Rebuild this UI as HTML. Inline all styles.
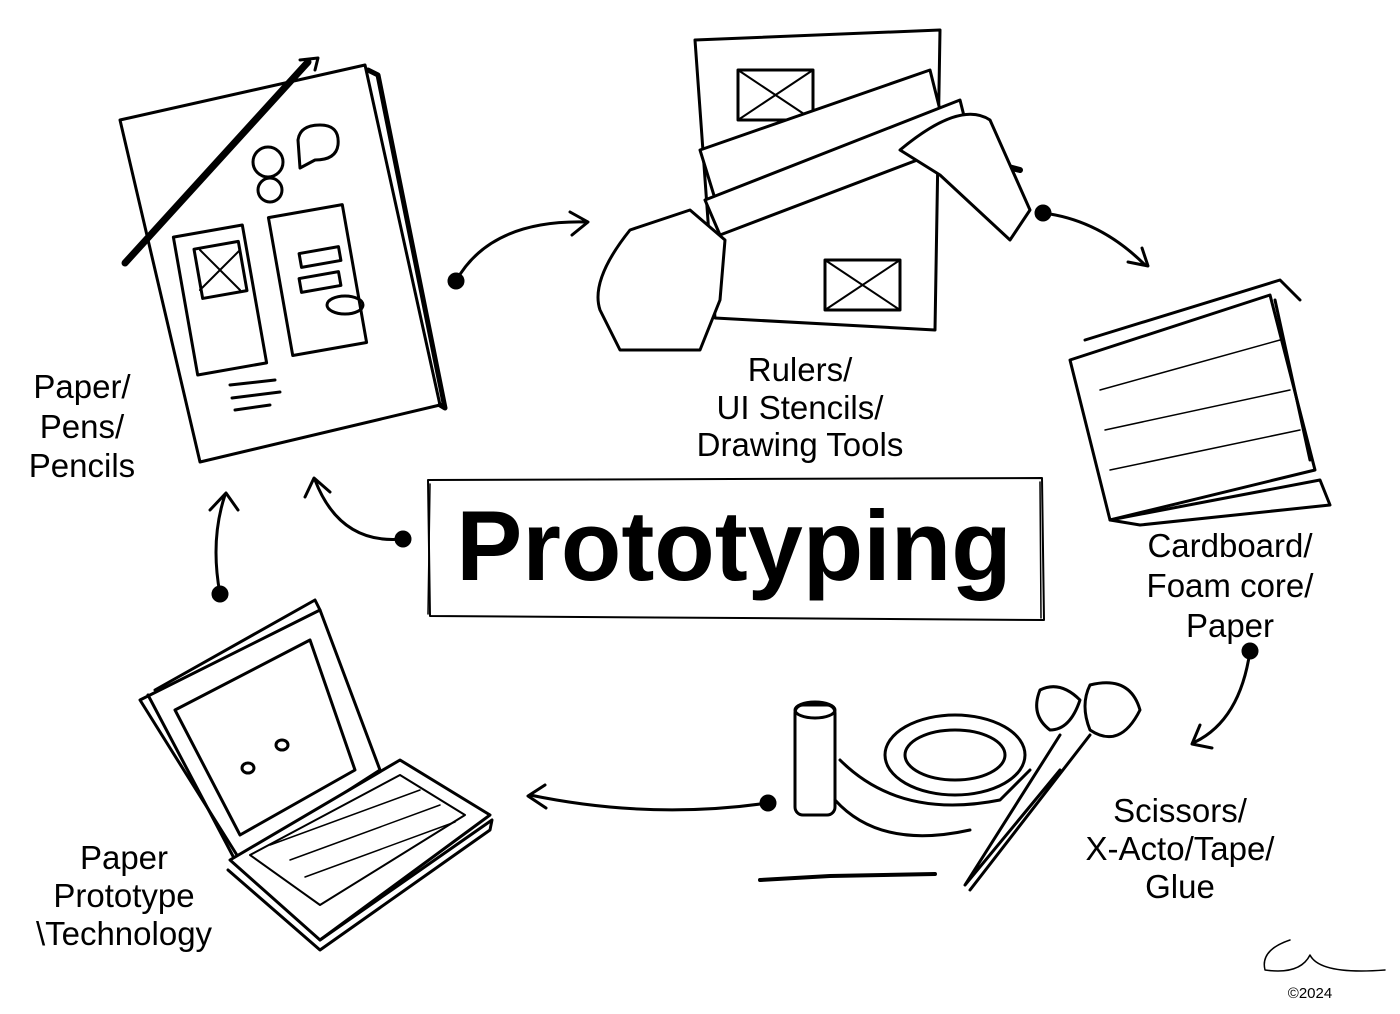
<!DOCTYPE html>
<html><head><meta charset="utf-8"><style>
html,body{margin:0;padding:0;background:#fff;}
svg{display:block}
text{font-family:"Liberation Sans",Arial,sans-serif;fill:#000}
</style></head><body>
<svg width="1400" height="1014" viewBox="0 0 1400 1014" xmlns="http://www.w3.org/2000/svg">
<g fill="none" stroke="#000" stroke-width="3" stroke-linecap="round" stroke-linejoin="round">
<path d="M120 120 L365 65 L440 405 L200 462 Z" fill="#fff"/>
<path d="M368 70 L378 75 L445 408 L440 405" stroke-width="5"/>
<path d="M308 62 L125 263" stroke-width="7"/>
<path d="M300 60 L318 58 L315 70" />
<rect x="185" y="230" width="70" height="140" transform="rotate(-10 220 300)"/>
<rect x="198" y="245" width="45" height="50" transform="rotate(-10 220 270)"/>
<path d="M200 250 L240 290 M240 250 L200 290" stroke-width="2"/>
<rect x="280" y="210" width="75" height="140" transform="rotate(-10 318 280)"/>
<rect x="300" y="250" width="40" height="14" transform="rotate(-10 320 257)"/>
<rect x="300" y="275" width="40" height="14" transform="rotate(-10 320 282)"/>
<ellipse cx="345" cy="305" rx="18" ry="9"/>
<circle cx="268" cy="162" r="15"/><circle cx="270" cy="190" r="12"/>
<path d="M298 140 Q300 125 320 125 Q340 125 338 145 Q336 160 315 160 L300 168 Z"/>
<path d="M230 385 L275 380 M232 398 L280 392 M235 410 L270 405"/>
<circle cx="456" cy="281" r="7" fill="#000"/>
<path d="M456 281 Q490 220 585 222 M570 212 L588 222 L572 235"/>
<path d="M695 40 L940 30 L935 330 L715 318 Z" fill="#fff"/>
<rect x="738" y="70" width="75" height="50"/>
<path d="M738 70 L813 120 M813 70 L738 120" stroke-width="2"/>
<rect x="825" y="260" width="75" height="50"/>
<path d="M825 260 L900 310 M900 260 L825 310" stroke-width="2"/>
<path d="M700 150 L930 70 L945 130 L720 215 Z" fill="#fff"/>
<path d="M705 200 L960 100 L970 140 L720 235 Z" fill="#fff"/>
<path d="M935 148 L1020 170" stroke-width="6"/>
<path d="M600 310 Q590 280 630 230 L690 210 L725 240 L720 300 L700 350 L620 350 Z" fill="#fff"/>
<path d="M900 150 Q960 100 990 120 L1030 210 L1010 240 L940 175 Z" fill="#fff"/>
<circle cx="1043" cy="213" r="7" fill="#000"/>
<path d="M1043 213 Q1100 220 1145 265 M1128 262 L1148 266 L1142 248"/>
<path d="M1070 360 L1270 295 L1315 470 L1110 520 Z" fill="#fff"/>
<path d="M1110 520 L1320 480 L1330 505 L1140 525 Z" fill="#fff"/>
<path d="M1085 340 L1280 280 L1300 300 M1275 300 L1310 460"/>
<path d="M1100 390 L1280 340 M1105 430 L1290 390 M1110 470 L1300 430" stroke-width="1.5"/>
<circle cx="1250" cy="651" r="7" fill="#000"/>
<path d="M1250 651 Q1240 720 1195 742 M1200 725 L1192 744 L1212 748"/>
<rect x="795" y="705" width="40" height="110" rx="8" fill="#fff"/>
<ellipse cx="815" cy="710" rx="20" ry="8"/>
<ellipse cx="955" cy="755" rx="70" ry="40" fill="#fff"/>
<ellipse cx="955" cy="755" rx="50" ry="25"/>
<path d="M840 760 Q900 820 1000 800 L1030 770"/>
<path d="M835 800 Q880 850 970 830"/>
<path d="M1040 690 Q1060 680 1080 700 Q1070 730 1050 730 Q1030 715 1040 690 Z" fill="#fff"/>
<path d="M1090 685 Q1130 675 1140 710 Q1120 750 1090 730 Q1080 705 1090 685 Z" fill="#fff"/>
<path d="M1060 735 L965 885 L1060 770 M1090 735 L970 890"/>
<path d="M760 880 L830 876 L935 874" stroke-width="4"/>
<circle cx="768" cy="803" r="7" fill="#000"/>
<path d="M768 803 Q650 820 530 795 M545 785 L528 796 L546 808"/>
<path d="M140 700 L320 610 L380 770 L240 860 Z" fill="#fff"/>
<path d="M155 690 L315 600 L320 610 M148 695 L235 860"/>
<path d="M175 710 L310 640 L355 770 L240 835 Z"/>
<path d="M230 860 L400 760 L490 815 L320 940 Z" fill="#fff"/>
<path d="M250 855 L400 775 L465 815 L320 905 Z" stroke-width="2"/>
<path d="M270 845 L420 790 M290 860 L440 805 M305 877 L455 822" stroke-width="1.5"/>
<path d="M320 940 L492 820 L490 830 L320 950 L228 870"/>
<ellipse cx="248" cy="768" rx="6" ry="5"/><ellipse cx="282" cy="745" rx="6" ry="5"/>
<circle cx="220" cy="594" r="7" fill="#000"/>
<path d="M220 594 Q210 540 225 495 M210 510 L226 493 L238 510"/>
<circle cx="403" cy="539" r="7" fill="#000"/>
<path d="M403 539 Q340 545 315 480 M305 497 L314 478 L330 492"/>
<path d="M428 480 L1042 478 L1044 620 L430 616 Z" stroke-width="2"/>
<path d="M430 484 L428 614 M1040 482 L1041 618" stroke-width="1.5"/>
<path d="M1290 940 Q1260 950 1265 970 Q1300 975 1310 955 Q1320 975 1385 970" stroke-width="1.5"/>
</g>
<text x="734" y="580" font-size="99" font-weight="bold" text-anchor="middle">Prototyping</text>
<g font-size="33" text-anchor="middle">
<text x="82" y="398">Paper/</text><text x="82" y="438">Pens/</text><text x="82" y="477">Pencils</text>
<text x="800" y="381">Rulers/</text><text x="800" y="419">UI Stencils/</text><text x="800" y="456">Drawing Tools</text>
<text x="1230" y="557">Cardboard/</text><text x="1230" y="597">Foam core/</text><text x="1230" y="637">Paper</text>
<text x="1180" y="822">Scissors/</text><text x="1180" y="860">X-Acto/Tape/</text><text x="1180" y="898">Glue</text>
<text x="124" y="869">Paper</text><text x="124" y="907">Prototype</text><text x="124" y="945">\Technology</text>
</g>
<text x="1310" y="998" font-size="15" text-anchor="middle">©2024</text>
</svg>
</body></html>
